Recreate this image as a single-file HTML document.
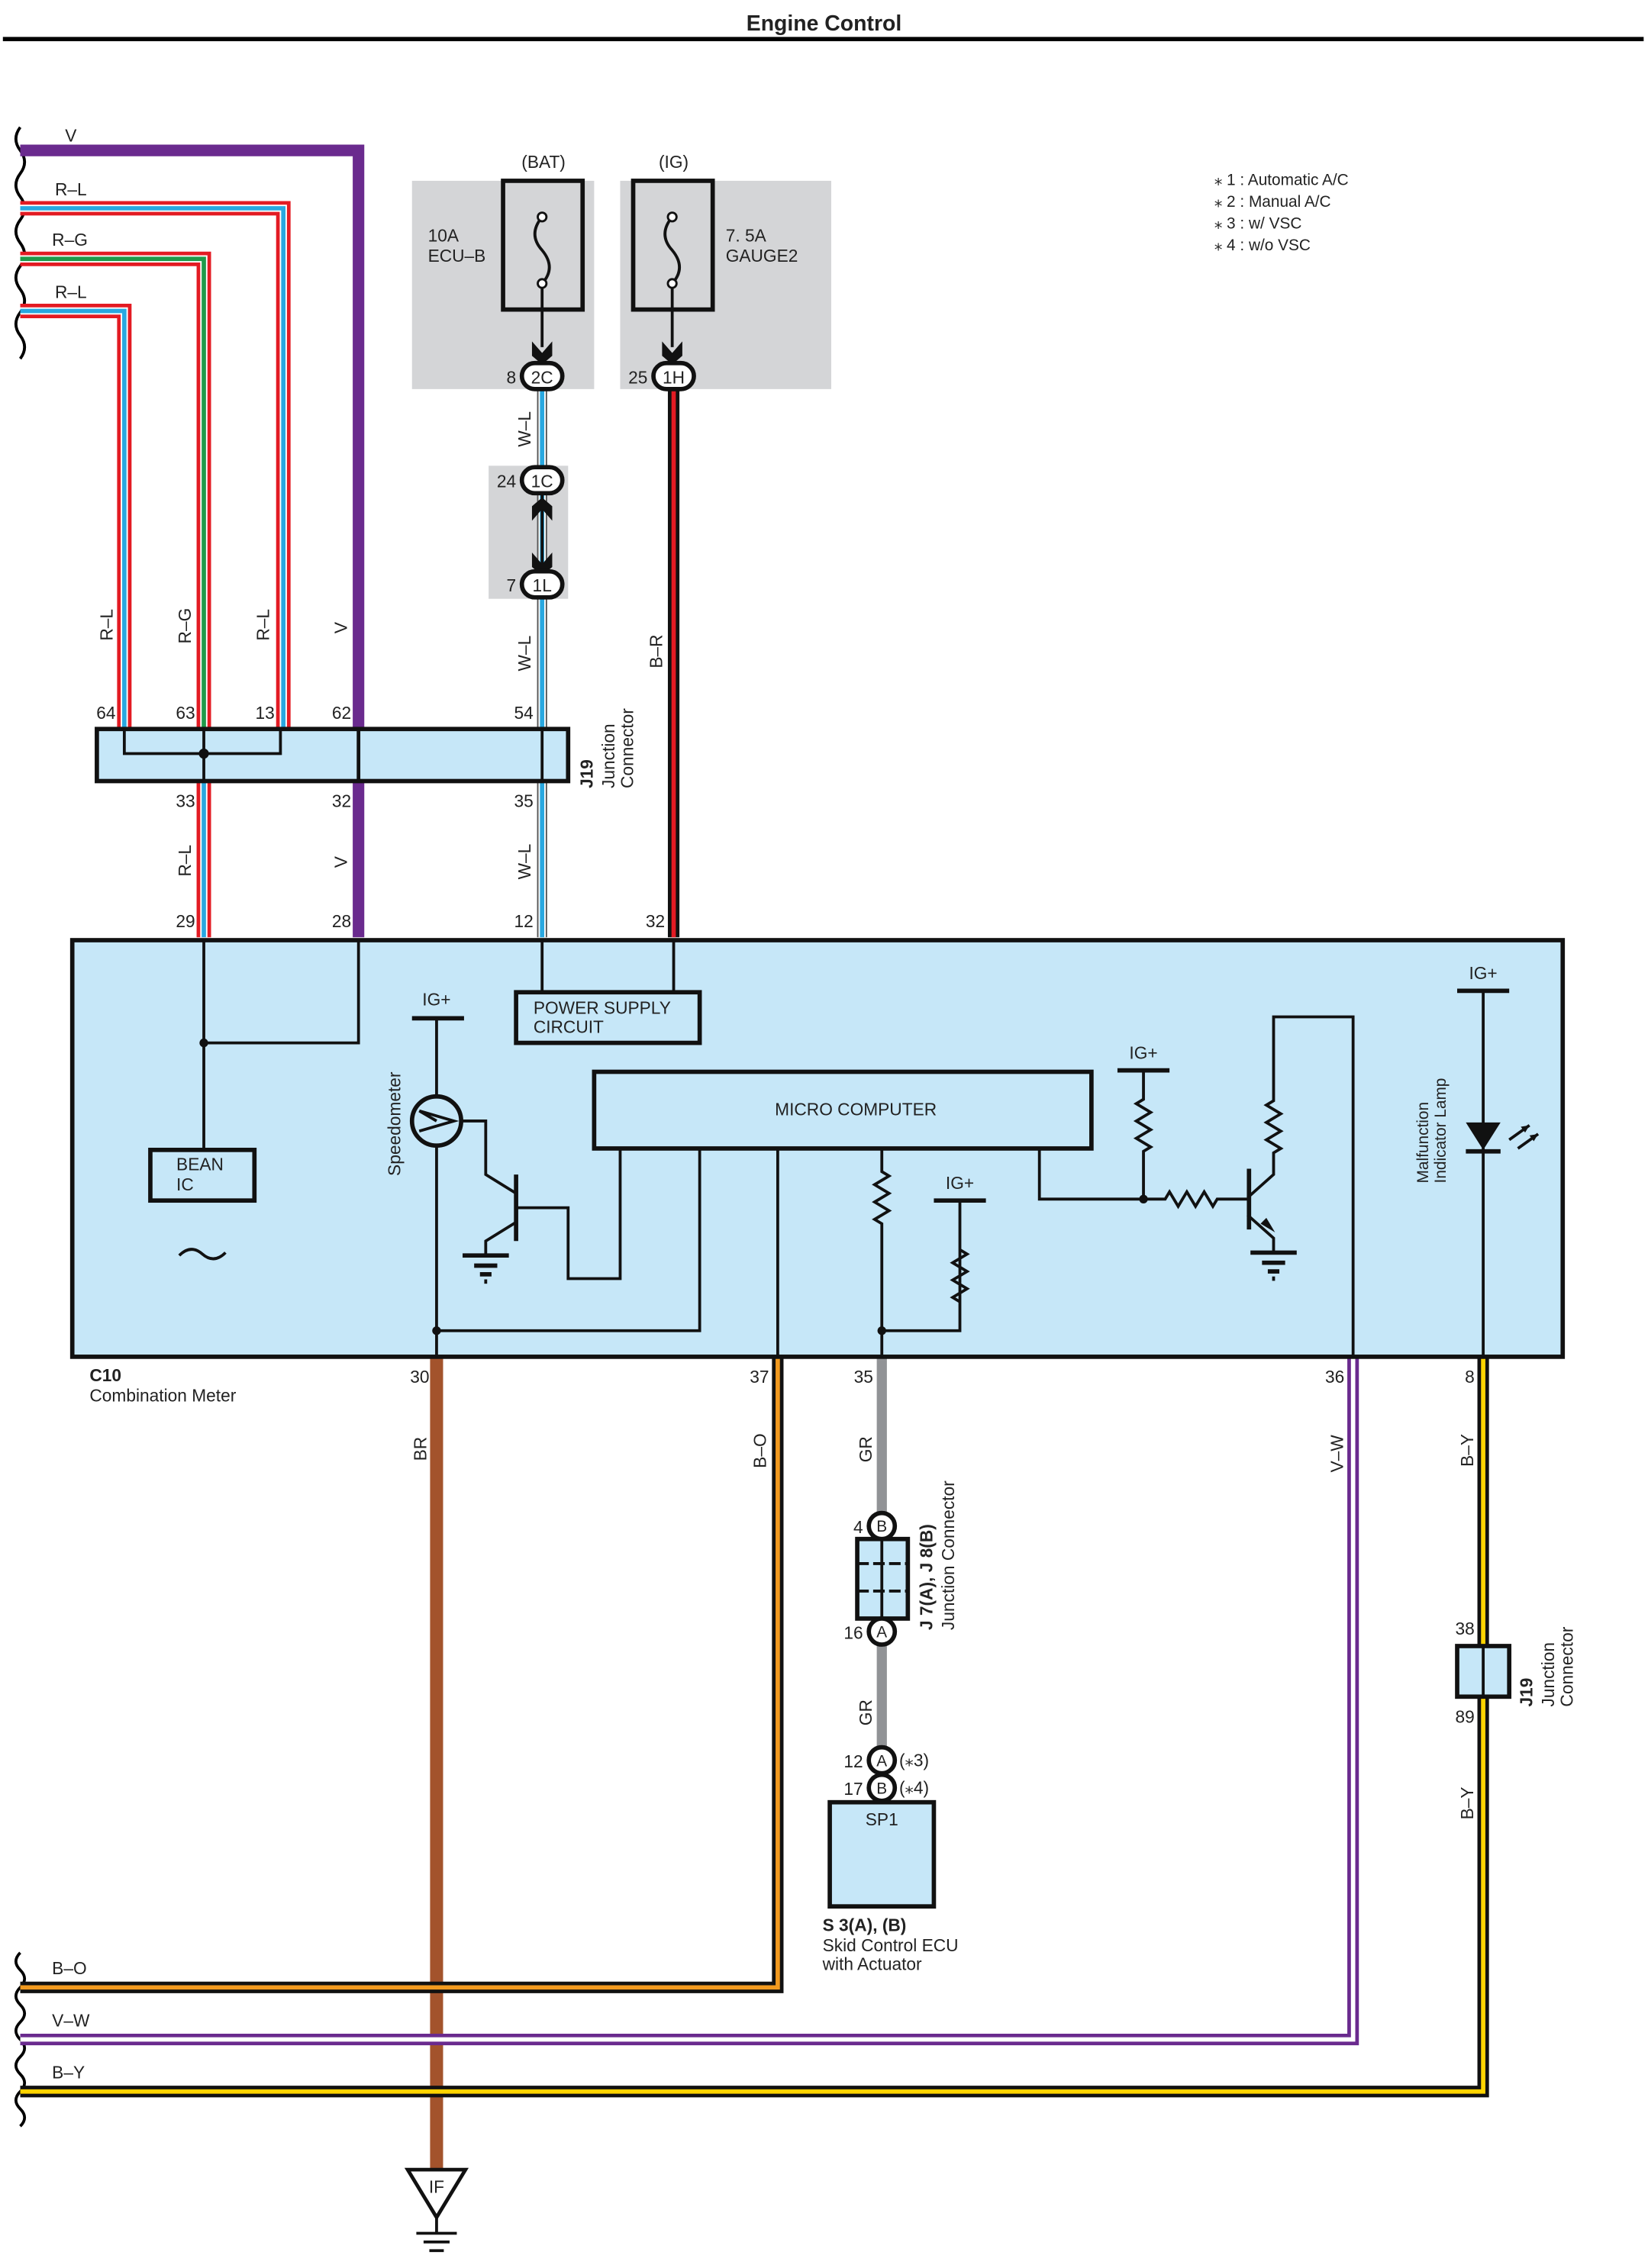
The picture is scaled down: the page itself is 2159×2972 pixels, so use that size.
<!DOCTYPE html>
<html><head><meta charset="utf-8"><style>
html,body{margin:0;padding:0;background:#fff}
svg{display:block}
text{font-family:"Liberation Sans",sans-serif;fill:#222}
</style></head><body>
<svg width="2159" height="2972" viewBox="0 0 1140 1568" preserveAspectRatio="none" xmlns="http://www.w3.org/2000/svg">
<rect width="1140" height="1568" fill="#fff"/>
<text x="570" y="21" font-size="15" font-weight="bold" text-anchor="middle">Engine Control</text>
<line x1="2" y1="27" x2="1137" y2="27" stroke="#000" stroke-width="3"/>

<!-- gray fuse areas -->
<rect x="285" y="125" width="126" height="144" fill="#d4d5d7"/>
<rect x="429" y="125" width="146" height="144" fill="#d4d5d7"/>
<rect x="338" y="322" width="55" height="92" fill="#d4d5d7"/>

<!-- wavy left marks -->
<g fill="none" stroke="#000" stroke-width="2">
<path d="M14 88 q-6 8 0 16 q6 8 0 16 q-6 8 0 16 q6 8 0 16 q-6 8 0 16 q6 8 0 16 q-6 8 0 16 q6 8 0 16 q-6 8 0 16 q6 8 0 16"/>
<path d="M14 1350 q-6 6 0 12 q6 6 0 12 q-6 6 0 12 q6 6 0 12 q-6 6 0 12 q6 6 0 12 q-6 6 0 12 q6 6 0 12 q-6 6 0 12 q6 6 0 12"/>
</g>

<!-- top wires -->
<path d="M14 104 H248 V648" fill="none" stroke="#6a2a8e" stroke-width="8"/>
<g fill="none">
<path d="M14 144 H196 V503" stroke="#e31b23" stroke-width="10"/>
<path d="M14 144 H196 V503" stroke="#fff" stroke-width="5"/>
<path d="M14 144 H196 V503" stroke="#29a8e0" stroke-width="3"/>
<path d="M14 179 H141 V648" stroke="#e31b23" stroke-width="10"/>
<path d="M14 179 H141 V503" stroke="#fff" stroke-width="5"/>
<path d="M14 179 H141 V503" stroke="#1f9a4a" stroke-width="3"/>
<path d="M141 540 V648" stroke="#fff" stroke-width="5"/>
<path d="M141 540 V648" stroke="#29a8e0" stroke-width="3"/>
<path d="M14 215 H86 V503" stroke="#e31b23" stroke-width="10"/>
<path d="M14 215 H86 V503" stroke="#fff" stroke-width="5"/>
<path d="M14 215 H86 V503" stroke="#29a8e0" stroke-width="3"/>
<!-- W-L -->
<path d="M375 260 V648" stroke="#555" stroke-width="7"/>
<path d="M375 260 V648" stroke="#fff" stroke-width="5"/>
<path d="M375 260 V648" stroke="#29a8e0" stroke-width="3"/>
<!-- B-R -->
<path d="M466 260 V648" stroke="#111" stroke-width="8"/>
<path d="M466 260 V648" stroke="#e31b23" stroke-width="3"/>
</g>
<text x="45" y="98" font-size="12">V</text>
<text x="38" y="135" font-size="12">R–L</text>
<text x="36" y="170" font-size="12">R–G</text>
<text x="38" y="206" font-size="12">R–L</text>

<!-- fuses -->
<g fill="none" stroke="#111" stroke-width="3">
<rect x="348" y="125" width="55" height="89"/>
<rect x="438" y="125" width="55" height="89"/>
</g>
<g fill="none" stroke="#111" stroke-width="2">
<path d="M375 150 q-10 12 0 23 q10 12 0 23"/>
<path d="M465 150 q-10 12 0 23 q10 12 0 23"/>
<line x1="375" y1="196" x2="375" y2="240"/>
<line x1="465" y1="196" x2="465" y2="240"/>
<line x1="375" y1="340" x2="375" y2="395"/>
</g>
<g fill="#fff" stroke="#111" stroke-width="1.5"><circle cx="375" cy="150" r="3"/><circle cx="375" cy="196" r="3"/><circle cx="465" cy="150" r="3"/><circle cx="465" cy="196" r="3"/></g>
<g fill="#111">
<path d="M368 236 L375 244 L382 236 L382 246 L375 252 L368 246Z"/>
<path d="M458 236 L465 244 L472 236 L472 246 L465 252 L458 246Z"/>
<path d="M368 360 L375 352 L382 360 L382 350 L375 344 L368 350Z"/>
<path d="M368 382 L375 390 L382 382 L382 392 L375 398 L368 392Z"/>
</g>
<g fill="#fff" stroke="#111" stroke-width="3">
<rect x="361" y="251" width="28" height="18" rx="9"/>
<rect x="452" y="251" width="28" height="18" rx="9"/>
<rect x="361" y="323" width="28" height="18" rx="9"/>
<rect x="361" y="395" width="28" height="18" rx="9"/>
</g>
<g font-size="12" text-anchor="middle">
<text x="375" y="265">2C</text><text x="466" y="265">1H</text>
<text x="375" y="337">1C</text><text x="375" y="409">1L</text>
</g>
<g font-size="12" text-anchor="end">
<text x="357" y="265">8</text><text x="448" y="265">25</text>
<text x="357" y="337">24</text><text x="357" y="409">7</text>
</g>
<text x="376" y="116" font-size="12" text-anchor="middle">(BAT)</text>
<text x="466" y="116" font-size="12" text-anchor="middle">(IG)</text>
<text x="296" y="167" font-size="12">10A</text><text x="296" y="181" font-size="12">ECU–B</text>
<text x="502" y="167" font-size="12">7. 5A</text><text x="502" y="181" font-size="12">GAUGE2</text>

<g font-size="11">
<text x="840" y="128">⁎ 1 : Automatic A/C</text>
<text x="840" y="143">⁎ 2 : Manual A/C</text>
<text x="840" y="158">⁎ 3 : w/ VSC</text>
<text x="840" y="173">⁎ 4 : w/o VSC</text>
</g>

<!-- rotated wire labels -->
<g font-size="12">
<text transform="translate(78,443) rotate(-90)">R–L</text>
<text transform="translate(132,445) rotate(-90)">R–G</text>
<text transform="translate(186,443) rotate(-90)">R–L</text>
<text transform="translate(240,438) rotate(-90)">V</text>
<text transform="translate(367,309) rotate(-90)">W–L</text>
<text transform="translate(367,464) rotate(-90)">W–L</text>
<text transform="translate(458,462) rotate(-90)">B–R</text>
<text transform="translate(132,606) rotate(-90)">R–L</text>
<text transform="translate(240,600) rotate(-90)">V</text>
<text transform="translate(367,608) rotate(-90)">W–L</text>
</g>
<g font-size="12" text-anchor="end">
<text x="80" y="497">64</text><text x="135" y="497">63</text><text x="190" y="497">13</text><text x="243" y="497">62</text><text x="369" y="497">54</text>
<text x="135" y="558">33</text><text x="243" y="558">32</text><text x="369" y="558">35</text>
<text x="135" y="641">29</text><text x="243" y="641">28</text><text x="369" y="641">12</text><text x="460" y="641">32</text>
</g>

<!-- J19 top -->
<rect x="67" y="504" width="326" height="36" fill="#c6e7f8" stroke="#111" stroke-width="3"/>
<g stroke="#111" stroke-width="2" fill="none">
<path d="M86 504 V521 H194 V504"/><line x1="141" y1="504" x2="141" y2="540"/>
<line x1="248" y1="504" x2="248" y2="540" stroke-width="2.5"/>
<line x1="375" y1="504" x2="375" y2="540"/>
</g>
<circle cx="141" cy="521" r="3.5" fill="#111"/>
<text transform="translate(410,545) rotate(-90)" font-size="12" font-weight="bold">J19</text>
<text transform="translate(425,545) rotate(-90)" font-size="12">Junction</text>
<text transform="translate(438,545) rotate(-90)" font-size="12">Connector</text>

<!-- bottom wires -->
<g fill="none">
<path d="M302 938 V1500" stroke="#a3532c" stroke-width="9"/>
<path d="M538 938 V1374 H14" stroke="#111" stroke-width="8"/>
<path d="M538 938 V1374 H14" stroke="#f29a1f" stroke-width="3"/>
<path d="M936 938 V1410 H14" stroke="#6a2a8e" stroke-width="8"/>
<path d="M936 938 V1410 H14" stroke="#fff" stroke-width="3"/>
<path d="M1026 938 V1446 H14" stroke="#111" stroke-width="8"/>
<path d="M1026 938 V1446 H14" stroke="#ffd400" stroke-width="3"/>
<path d="M610 938 V1245" stroke="#919396" stroke-width="7"/>
</g>
<text x="36" y="1365" font-size="12">B–O</text>
<text x="36" y="1401" font-size="12">V–W</text>
<text x="36" y="1437" font-size="12">B–Y</text>

<!-- C10 -->
<rect x="50" y="650" width="1031" height="288" fill="#c6e7f8" stroke="#111" stroke-width="3"/>
<g stroke="#111" stroke-width="2" fill="none">
<path d="M141 650 V794"/><path d="M141 721 H248 V650"/>
<path d="M375 650 V686"/><path d="M466 650 V686"/>
<path d="M302 704 V938"/><path d="M302 920 H484 V794"/>
<path d="M319 775 H336 V812 L357 825"/><path d="M357 845 L336 858 V868"/>
<path d="M357 835 H393 V884 H429 V794"/>
<path d="M538 794 V938"/>
<path d="M610 794 V810 l5 3 l-10 6 l10 6 l-10 6 l10 6 l-10 6 l5 3 V938"/>
<path d="M610 920 H664 V864 l5 3 l-10 6 l10 6 l-10 6 l10 6 l-10 6 l5 3 V830"/>
<path d="M719 794 V829 H806 l3 -5 l6 10 l6 -10 l6 10 l6 -10 l6 10 l3 -5 H863"/>
<path d="M791 829 V796 l5 -3 l-10 -6 l10 -6 l-10 -6 l10 -6 l-10 -6 l5 -3 V740"/>
<path d="M863 828 L881 812 V797 l5 -3 l-10 -6 l10 -6 l-10 -6 l10 -6 l-10 -6 l5 -3 V703 H936 V938"/>
<path d="M863 840 L881 856 V866"/>
<path d="M1026 685 V938"/>
<path d="M1044 788 l14 -10 M1050 794 l14 -10"/>
</g>
<g stroke="#111" stroke-width="3">
<line x1="285" y1="704" x2="321" y2="704"/>
<line x1="646" y1="830" x2="682" y2="830"/>
<line x1="773" y1="740" x2="809" y2="740"/>
<line x1="1008" y1="685" x2="1044" y2="685"/>
<line x1="357" y1="812" x2="357" y2="858"/>
<line x1="864" y1="808" x2="864" y2="850"/>
<line x1="320" y1="868" x2="352" y2="868"/><line x1="328" y1="875" x2="344" y2="875"/><line x1="332" y1="881" x2="340" y2="881"/><line x1="335" y1="886" x2="337" y2="886"/>
<line x1="865" y1="866" x2="897" y2="866"/><line x1="873" y1="873" x2="889" y2="873"/><line x1="877" y1="879" x2="885" y2="879"/><line x1="880" y1="884" x2="882" y2="884"/>
<line x1="1014" y1="796" x2="1038" y2="796"/>
</g>
<path d="M872 846 L882 852 L876 842Z" fill="#111"/>
<path d="M1014 776 H1038 L1026 795Z" fill="#111"/>
<path d="M1058 778 l-6 1 l3 4Z M1064 784 l-6 1 l3 4Z" fill="#111"/>
<g fill="#111"><circle cx="141" cy="721" r="3"/><circle cx="302" cy="920" r="3"/><circle cx="610" cy="920" r="3"/><circle cx="791" cy="829" r="3"/></g>
<circle cx="302" cy="775" r="17" fill="#c6e7f8" stroke="#111" stroke-width="3"/>
<path d="M290 768 L314 775 L290 782 M302 775 L290 768" fill="none" stroke="#111" stroke-width="2"/>
<rect x="104" y="795" width="72" height="35" fill="#c6e7f8" stroke="#111" stroke-width="3"/>
<text x="122" y="809" font-size="12">BEAN</text><text x="122" y="823" font-size="12">IC</text>
<path d="M124 868 q8 -8 16 -1 q8 7 16 -1" fill="none" stroke="#111" stroke-width="2"/>
<rect x="357" y="686" width="127" height="35" fill="#c6e7f8" stroke="#111" stroke-width="3"/>
<text x="369" y="701" font-size="12">POWER SUPPLY</text><text x="369" y="714" font-size="12">CIRCUIT</text>
<rect x="411" y="741" width="344" height="53" fill="#c6e7f8" stroke="#111" stroke-width="3"/>
<text x="592" y="771" font-size="12" text-anchor="middle">MICRO COMPUTER</text>
<g font-size="12" text-anchor="middle">
<text x="302" y="695">IG+</text><text x="664" y="822">IG+</text><text x="791" y="732">IG+</text><text x="1026" y="677">IG+</text>
</g>
<text transform="translate(277,813) rotate(-90)" font-size="12">Speedometer</text>
<text transform="translate(988,818) rotate(-90)" font-size="11">Malfunction</text>
<text transform="translate(1000,818) rotate(-90)" font-size="11">Indicator Lamp</text>
<text x="62" y="955" font-size="12" font-weight="bold">C10</text>
<text x="62" y="969" font-size="12">Combination Meter</text>
<g font-size="12" text-anchor="end">
<text x="297" y="956">30</text><text x="532" y="956">37</text><text x="604" y="956">35</text><text x="930" y="956">36</text><text x="1020" y="956">8</text>
</g>
<g font-size="12">
<text transform="translate(295,1010) rotate(-90)">BR</text>
<text transform="translate(530,1015) rotate(-90)">B–O</text>
<text transform="translate(603,1011) rotate(-90)">GR</text>
<text transform="translate(929,1018) rotate(-90)">V–W</text>
<text transform="translate(1019,1014) rotate(-90)">B–Y</text>
<text transform="translate(603,1193) rotate(-90)">GR</text>
<text transform="translate(1019,1258) rotate(-90)">B–Y</text>
</g>

<!-- J7/J8 -->
<rect x="593" y="1064" width="35" height="55" fill="#c6e7f8" stroke="#111" stroke-width="3"/>
<g stroke="#111" stroke-width="2"><line x1="610" y1="1064" x2="610" y2="1119"/><line x1="593" y1="1081" x2="628" y2="1081" stroke-dasharray="8 3"/><line x1="593" y1="1100" x2="628" y2="1100" stroke-dasharray="8 3"/></g>
<g fill="#fff" stroke="#111" stroke-width="3">
<ellipse cx="610" cy="1055" rx="9" ry="9"/><ellipse cx="610" cy="1128" rx="9" ry="9"/>
<ellipse cx="610" cy="1217" rx="9" ry="9"/><ellipse cx="610" cy="1236" rx="9" ry="9"/>
</g>
<g font-size="11" text-anchor="middle"><text x="610" y="1059">B</text><text x="610" y="1132">A</text><text x="610" y="1221">A</text><text x="610" y="1240">B</text></g>
<g font-size="12" text-anchor="end"><text x="597" y="1060">4</text><text x="597" y="1133">16</text><text x="597" y="1222">12</text><text x="597" y="1241">17</text></g>
<text x="622" y="1221" font-size="12">(⁎3)</text><text x="622" y="1240" font-size="12">(⁎4)</text>
<text transform="translate(645,1127) rotate(-90)" font-size="12" font-weight="bold">J 7(A), J 8(B)</text>
<text transform="translate(660,1127) rotate(-90)" font-size="12">Junction Connector</text>
<rect x="574" y="1246" width="72" height="72" fill="#c6e7f8" stroke="#111" stroke-width="3"/>
<text x="610" y="1262" font-size="12" text-anchor="middle">SP1</text>
<text x="569" y="1335" font-size="12" font-weight="bold">S 3(A), (B)</text>
<text x="569" y="1349" font-size="12">Skid Control ECU</text>
<text x="569" y="1362" font-size="12">with Actuator</text>

<!-- J19 lower -->
<rect x="1008" y="1138" width="36" height="35" fill="#c6e7f8" stroke="#111" stroke-width="3"/>
<line x1="1026" y1="1138" x2="1026" y2="1173" stroke="#111" stroke-width="2"/>
<text x="1020" y="1130" font-size="12" text-anchor="end">38</text>
<text x="1020" y="1191" font-size="12" text-anchor="end">89</text>
<text transform="translate(1060,1180) rotate(-90)" font-size="12" font-weight="bold">J19</text>
<text transform="translate(1075,1180) rotate(-90)" font-size="12">Junction</text>
<text transform="translate(1088,1180) rotate(-90)" font-size="12">Connector</text>

<!-- ground IF -->
<path d="M282 1500 H322 L302 1533Z" fill="#fff" stroke="#111" stroke-width="2.5"/>
<text x="302" y="1516" font-size="12" text-anchor="middle">IF</text>
<g stroke="#111" stroke-width="2"><line x1="302" y1="1533" x2="302" y2="1544"/><line x1="288" y1="1544" x2="316" y2="1544"/><line x1="293" y1="1550" x2="311" y2="1550"/><line x1="297" y1="1556" x2="307" y2="1556"/></g>
</svg>
</body></html>
